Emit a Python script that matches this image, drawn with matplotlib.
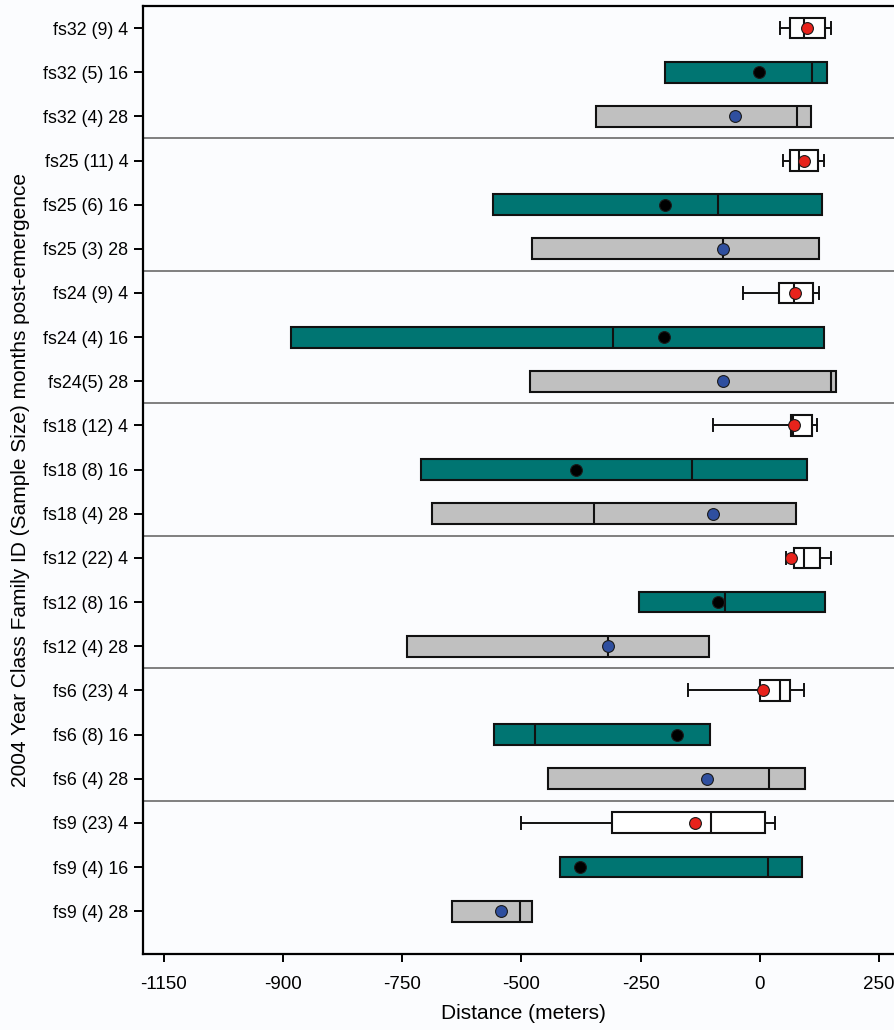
import matplotlib
matplotlib.use("Agg")
import matplotlib.pyplot as plt

plt.rcParams['font.family'] = ['Liberation Sans', 'DejaVu Sans']

# one row per family / age, top to bottom
row_labels = [
    "fs32 (9) 4", "fs32 (5) 16", "fs32 (4) 28",
    "fs25 (11) 4", "fs25 (6) 16", "fs25 (3) 28",
    "fs24 (9) 4", "fs24 (4) 16", "fs24(5) 28",
    "fs18 (12) 4", "fs18 (8) 16", "fs18 (4) 28",
    "fs12 (22) 4", "fs12 (8) 16", "fs12 (4) 28",
    "fs6 (23) 4", "fs6 (8) 16", "fs6 (4) 28",
    "fs9 (23) 4", "fs9 (4) 16", "fs9 (4) 28",
]
months = [4, 16, 28] * 7

# distance summaries (meters)
whis_lo = [43, -198, -343, 48, -559, -478, -36, -982, -481, -99, -710, -687,
           55, -253, -740, -150, -557, -444, -501, -420, -646]
q1 = [64, -198, -343, 64, -559, -478, 40, -982, -481, 66, -710, -687,
      71, -253, -740, 1, -557, -444, -310, -420, -646]
median = [92, 110, 78, 81, -87, -78, 72, -308, 150, 70, -143, -348,
          93, -73, -319, 43, -472, 18, -102, 17, -502]
q3 = [136, 140, 108, 122, 131, 123, 112, 134, 160, 110, 98, 75,
      125, 136, -106, 64, -104, 94, 10, 89, -478]
whis_hi = [149, 140, 108, 134, 131, 123, 123, 134, 160, 120, 98, 75,
           150, 136, -106, 92, -104, 94, 32, 89, -478]
mean = [99, -1, -52, 92, -200, -78, 73, -201, -78, 72, -385, -98,
        66, -87, -319, 7, -173, -110, -137, -378, -542]

box_color = {4: 'white', 16: '#007572', 28: '#c0c0c0'}
mean_color = {4: '#e8231c', 16: 'black', 28: '#2f4f9f'}

xticks = [-1250, -1000, -750, -500, -250, 0, 250]
xtick_labels = ['-1150', '-900', '-750', '-500', '-250', '0', '250']

bg = '#fbfcfe'
fig = plt.figure(figsize=(8.95, 10.30), dpi=100, facecolor=bg)
ax = fig.add_axes([0.1598, 0.0738, 0.8492, 0.9204], facecolor=bg)

for m in [4, 16, 28]:
    idx = [i for i in range(len(row_labels)) if months[i] == m]
    stats = []
    for i in idx:
        stats.append(dict(med=median[i], q1=q1[i], q3=q3[i],
                          whislo=whis_lo[i], whishi=whis_hi[i], fliers=[]))
    ax.bxp(stats, positions=idx, widths=0.47, orientation='horizontal',
           patch_artist=True, showfliers=False, showcaps=(m == 4),
           boxprops=dict(facecolor=box_color[m], edgecolor='#111111', linewidth=1.5),
           medianprops=dict(color='#111111', linewidth=1.5),
           whiskerprops=dict(color='#111111', linewidth=1.4),
           capprops=dict(color='#111111', linewidth=1.4), capwidths=0.27,
           manage_ticks=False)
    ax.plot([mean[i] for i in idx], idx, 'o', ls='none', ms=8.5,
            color=mean_color[m], mec='#1a1a1a', mew=0.8, zorder=5)

# separators between families
for k in range(1, 7):
    ax.axhline(3 * k - 0.5, color='#6a6a6a', lw=1.2, zorder=1)

ax.set_ylim(20.97, -0.5)
ax.set_xlim(-1293, 300)
ax.set_yticks(range(len(row_labels)))
ax.set_yticklabels(row_labels, fontsize=12.8)
ax.set_xticks(xticks)
ax.set_xticklabels(xtick_labels, fontsize=13.5)
ax.tick_params(axis='y', length=6.5, width=1.4, pad=4)
ax.tick_params(axis='x', length=6, width=1.4, pad=10)
for s in ax.spines.values():
    s.set_linewidth(1.6)

ax.set_xlabel('Distance (meters)', fontsize=15, labelpad=8)
ax.set_ylabel('2004 Year Class Family ID (Sample Size) months post-emergence',
              fontsize=15, labelpad=10)

fig.savefig('out.png', dpi=100, facecolor=bg)
